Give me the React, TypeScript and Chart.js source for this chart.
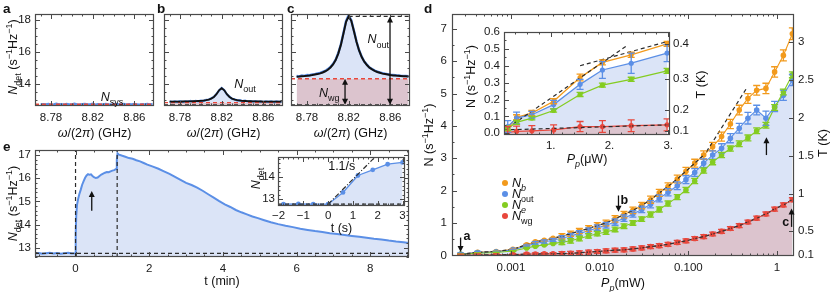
import { useEffect, useRef } from "react";
import { Chart, registerables } from "chart.js";

Chart.register(...registerables);

const W = 831;
const H = 292;
const FONT = "'Liberation Sans', Arial, Helvetica, sans-serif";

const BLUE = "#5b8fe6";
const ORANGE = "#f29a1c";
const GREEN = "#84cc21";
const RED = "#e8473c";
const BLUE_FILL = "#dbe4f7";
const PINK_FILL = "#dcc4ce";
const DASH = "#2b2b2b";
const FRAME = "#4a4a4a";
const INK = "#111111";

// ---------------- panels a, b, c : spectra ----------------
const freqGHz = [8.77, 8.7725, 8.775, 8.7775, 8.78, 8.7825, 8.785, 8.7875, 8.79, 8.7925, 8.795, 8.7975, 8.8, 8.8025, 8.805, 8.8075, 8.81, 8.8125, 8.815, 8.8175, 8.82, 8.8225, 8.825, 8.8275, 8.83, 8.8325, 8.835, 8.8375, 8.84, 8.8425, 8.845, 8.8475, 8.85, 8.8525, 8.855, 8.8575, 8.86, 8.8625, 8.865, 8.8675, 8.87, 8.8725, 8.875, 8.8775];
const specA = [12.75, 12.76, 12.74, 12.77, 12.73, 12.75, 12.78, 12.74, 12.76, 12.73, 12.77, 12.75, 12.74, 12.78, 12.75, 12.73, 12.76, 12.77, 12.74, 12.75, 12.78, 12.73, 12.76, 12.75, 12.74, 12.77, 12.75, 12.73, 12.76, 12.78, 12.74, 12.75, 12.77, 12.73, 12.76, 12.74, 12.77, 12.75, 12.73, 12.76, 12.74, 12.77, 12.75, 12.76];
const specB = [12.93, 12.88, 12.92, 12.9, 12.94, 12.89, 12.93, 12.91, 12.95, 12.9, 12.96, 12.93, 12.97, 12.95, 13.02, 13.03, 13.12, 13.2, 13.39, 13.6, 13.76, 13.62, 13.36, 13.22, 13.08, 13.06, 12.98, 13.0, 12.94, 12.97, 12.92, 12.95, 12.91, 12.94, 12.9, 12.93, 12.89, 12.93, 12.9, 12.92, 12.88, 12.92, 12.9, 12.91];
const fitB = [12.911, 12.912, 12.913, 12.915, 12.917, 12.92, 12.924, 12.927, 12.93, 12.935, 12.94, 12.95, 12.96, 12.98, 13.0, 13.04, 13.1, 13.2, 13.37, 13.61, 13.75, 13.61, 13.37, 13.2, 13.1, 13.04, 13.0, 12.98, 12.96, 12.95, 12.94, 12.935, 12.93, 12.927, 12.924, 12.92, 12.917, 12.915, 12.913, 12.912, 12.911, 12.91, 12.91, 12.91];
const specC = [14.5, 14.48, 14.53, 14.51, 14.56, 14.55, 14.6, 14.62, 14.66, 14.69, 14.76, 14.82, 14.93, 15.06, 15.26, 15.52, 15.93, 16.47, 17.18, 17.92, 18.28, 17.97, 17.33, 16.66, 16.1, 15.71, 15.4, 15.21, 15.03, 14.94, 14.84, 14.78, 14.72, 14.68, 14.64, 14.62, 14.58, 14.57, 14.55, 14.54, 14.52, 14.51, 14.5, 14.49];
const fitC = [14.46, 14.47, 14.49, 14.5, 14.515, 14.535, 14.56, 14.59, 14.62, 14.665, 14.72, 14.795, 14.89, 15.03, 15.22, 15.49, 15.895, 16.432, 17.139, 17.864, 18.2, 17.93, 17.3, 16.63, 16.09, 15.68, 15.39, 15.18, 15.02, 14.91, 14.82, 14.75, 14.7, 14.65, 14.62, 14.59, 14.56, 14.54, 14.53, 14.51, 14.5, 14.49, 14.48, 14.47];
const sysLevel = 12.71;
const wgLevelA = 12.75;
const wgLevelB = 12.85;
const wgLevelC = 14.33;
const peakLevelC = 18.2;
const peakFreqC = 8.82;
const arrowFreqOutC = 8.8597;
const arrowFreqWgC = 8.8165;
const fTicks = [8.78, 8.82, 8.86];
const fTickLabels = ["8.78", "8.82", "8.86"];
const nDetTicks = [14, 16, 18];

// ---------------- panel e : time trace ----------------
const tMin = [-1.1, -1.0, -0.9, -0.8, -0.7, -0.6, -0.5, -0.4, -0.3, -0.2, -0.1, 0, 0.005, 0.02, 0.04, 0.07, 0.1, 0.14, 0.18, 0.22, 0.26, 0.3, 0.34, 0.38, 0.42, 0.46, 0.5, 0.55, 0.6, 0.65, 0.7, 0.75, 0.8, 0.85, 0.9, 0.95, 1.0, 1.05, 1.1, 1.12, 1.14, 1.18, 1.25, 1.35, 1.45, 1.55, 1.65, 1.75, 1.85, 1.95, 2.1, 2.25, 2.4, 2.55, 2.7, 2.85, 3.0, 3.15, 3.3, 3.45, 3.6, 3.75, 3.9, 4.05, 4.2, 4.35, 4.5, 4.65, 4.8, 4.95, 5.1, 5.3, 5.5, 5.7, 5.9, 6.1, 6.3, 6.5, 6.7, 6.9, 7.1, 7.3, 7.5, 7.7, 7.9, 8.1, 8.3, 8.5, 8.7, 8.9, 9.05];
const nDetTime = [12.75, 12.77, 12.74, 12.76, 12.78, 12.75, 12.77, 12.74, 12.76, 12.78, 12.75, 12.76, 13.6, 14.4, 14.85, 15.1, 15.3, 15.5, 15.72, 15.88, 16.02, 16.12, 16.18, 16.15, 16.17, 16.1, 16.05, 16.01, 16.03, 16.1, 16.16, 16.2, 16.24, 16.27, 16.26, 16.3, 16.33, 16.35, 16.4, 16.8, 17.08, 17.02, 16.98, 16.93, 16.87, 16.84, 16.78, 16.73, 16.66, 16.59, 16.5, 16.41, 16.3, 16.19, 16.06, 15.93, 15.8, 15.71, 15.6, 15.46, 15.31, 15.16, 15.01, 14.87, 14.76, 14.63, 14.53, 14.44, 14.35, 14.28, 14.2, 14.1, 14.02, 13.95, 13.89, 13.82, 13.77, 13.72, 13.68, 13.63, 13.59, 13.55, 13.51, 13.47, 13.43, 13.39, 13.36, 13.31, 13.27, 13.24, 13.2];
const baseLevelE = 12.76;
const pumpOnMin = 0;
const pumpOffMin = 1.13;
const arrowTimeE = 0.44;
const tTicks = [0, 2, 4, 6, 8];
const nDetTicksE = [13, 14, 15, 16, 17];
const tSec = [-1.8, -1.2, -0.6, 0, 0.6, 1.2, 1.8, 2.4, 3.0];
const nDetSec = [12.78, 12.79, 12.78, 12.78, 13.3, 14.05, 14.3, 14.55, 14.63];
const slopeSecT = [0, 1.95];
const slopeSecN = [12.78, 14.93];
const tSecTicks = [-2, -1, 0, 1, 2, 3];
const tSecTickLabels = ["\u22122", "\u22121", "0", "1", "2", "3"];
const nDetSecTicks = [13, 14];

// ---------------- panel d : power sweep ----------------
const powerMW = [2.7e-4, 4.2e-4, 6.8e-4, 1.05e-3, 1.5e-3, 1.88e-3, 2.37e-3, 2.98e-3, 3.75e-3, 4.7e-3, 5.9e-3, 7.5e-3, 9.4e-3, 0.0118, 0.0149, 0.0188, 0.0237, 0.0298, 0.0375, 0.047, 0.059, 0.075, 0.094, 0.118, 0.149, 0.188, 0.237, 0.298, 0.375, 0.47, 0.59, 0.75, 0.94, 1.18, 1.49];
const nB = [0.03, 0.095, 0.12, 0.19, 0.33, 0.42, 0.465, 0.53, 0.59, 0.67, 0.75, 0.83, 0.92, 1.0, 1.13, 1.26, 1.39, 1.54, 1.72, 1.93, 2.13, 2.36, 2.6, 2.85, 3.1, 3.36, 3.67, 4.06, 4.49, 4.85, 5.1, 5.16, 5.67, 6.18, 6.85];
const nOut = [0.04, 0.09, 0.11, 0.17, 0.29, 0.375, 0.415, 0.475, 0.53, 0.6, 0.68, 0.76, 0.85, 0.93, 1.03, 1.15, 1.28, 1.42, 1.58, 1.76, 1.95, 2.15, 2.34, 2.56, 2.85, 3.1, 3.31, 3.62, 3.93, 4.24, 4.49, 4.24, 4.6, 4.95, 5.42];
const nE = [0.03, 0.065, 0.09, 0.135, 0.23, 0.285, 0.32, 0.37, 0.4, 0.45, 0.52, 0.6, 0.67, 0.72, 0.8, 0.9, 1.0, 1.12, 1.26, 1.42, 1.6, 1.8, 2.02, 2.3, 2.62, 2.88, 3.1, 3.3, 3.45, 3.63, 3.85, 4.02, 4.57, 5.05, 5.58];
const nWg = [0.005, 0.012, 0.015, 0.02, 0.04, 0.04, 0.045, 0.05, 0.055, 0.06, 0.08, 0.1, 0.12, 0.14, 0.16, 0.17, 0.2, 0.23, 0.27, 0.3, 0.34, 0.4, 0.45, 0.52, 0.58, 0.66, 0.74, 0.83, 0.92, 1.03, 1.15, 1.28, 1.43, 1.56, 1.72];
const errB = [0.015, 0.015, 0.015, 0.015, 0.02, 0.015, 0.015, 0.015, 0.08, 0.08, 0.08, 0.09, 0.09, 0.09, 0.1, 0.1, 0.1, 0.1, 0.11, 0.11, 0.11, 0.12, 0.12, 0.12, 0.13, 0.13, 0.14, 0.14, 0.15, 0.15, 0.15, 0.16, 0.16, 0.17, 0.18];
const errOut = [0.035, 0.035, 0.02, 0.025, 0.03, 0.05, 0.06, 0.05, 0.08, 0.08, 0.08, 0.09, 0.09, 0.09, 0.1, 0.1, 0.1, 0.1, 0.11, 0.11, 0.11, 0.12, 0.12, 0.12, 0.13, 0.13, 0.14, 0.14, 0.15, 0.18, 0.15, 0.22, 0.16, 0.16, 0.17];
const errE = [0.012, 0.012, 0.01, 0.01, 0.012, 0.012, 0.012, 0.015, 0.07, 0.07, 0.07, 0.07, 0.07, 0.07, 0.07, 0.07, 0.07, 0.07, 0.08, 0.08, 0.08, 0.08, 0.08, 0.08, 0.08, 0.08, 0.08, 0.08, 0.09, 0.09, 0.09, 0.09, 0.09, 0.09, 0.09];
const errWg = [0.035, 0.03, 0.03, 0.03, 0.03, 0.035, 0.035, 0.035, 0.06, 0.06, 0.06, 0.06, 0.06, 0.06, 0.06, 0.06, 0.06, 0.06, 0.06, 0.06, 0.06, 0.06, 0.06, 0.06, 0.06, 0.06, 0.06, 0.06, 0.06, 0.06, 0.06, 0.06, 0.06, 0.06, 0.06];
const fitLowCount = 25;
const slopeP = [0.16, 0.45];
const slopeN = [3.2, 5.15];
const insetCount = 8;
const insetSlopeAP = [0.26, 2.3];
const insetSlopeAN = [0.03, 0.52];
const insetSlopeBP = [1.5, 3.0];
const insetSlopeBN = [0.4, 0.545];
const insetWgFitP = [0.2, 3.0];
const insetWgFitN = [0.02, 0.05];
const pTicks = [0.001, 0.01, 0.1, 1];
const pTickLabels = ["0.001", "0.010", "0.100", "1"];
const nTicks = [0, 1, 2, 3, 4, 5, 6, 7];
const tempTicks = [0.1, 0.5, 1, 1.5, 2, 2.5, 3];
const insetPTicks = [1, 2, 3];
const insetPTickLabels = ["1.", "2.", "3."];
const insetNTicks = [0, 0.1, 0.2, 0.3, 0.4, 0.5, 0.6];
const insetTempTicks = [0.1, 0.2, 0.3, 0.4];
const hfOverK = 0.4233; // h*8.82 GHz / k_B in kelvin
const arrowA = { p: 2.7e-4, from: 0.55, to: 0.1 };
const arrowB = { p: 0.0163, from: 1.85, to: 1.35 };
const arrowC = { p: 1.46, from: 0.88, to: 1.45 };
const arrowUp = { p: 0.76, from: 3.1, to: 3.65 };

// ---------------- helpers ----------------
type Seg = { t: string; i?: boolean; b?: boolean; sub?: boolean; sup?: boolean };
type Pt = (c: any) => [number, number];
interface TextSpec { at: Pt; segs: Seg[]; size?: number; align?: string; rot?: number }
interface ArrowSpec { x: number; y1: number; y2: number; both?: boolean; xs?: string; ys?: string }
interface ErrSpec { xs: number[]; ys: number[]; err: number[]; color: string; n?: number; cap?: number }
interface TickSpec { scale: string; side: "bottom" | "top" | "left" | "right"; minor?: number | "log" }
interface DecorCfg { bg?: string; ticks: TickSpec[]; errors?: ErrSpec[]; arrows?: ArrowSpec[]; texts?: TextSpec[]; dots?: { at: Pt; color: string }[] }
interface Area { l: number; t: number; r: number; b: number }

const boseN = (T: number) => 1 / (Math.exp(hfOverK / T) - 1);
const xy = (xs: number[], ys: number[]) => xs.map((x, i) => ({ x, y: ys[i] }));

function drawRich(ctx: CanvasRenderingContext2D, segs: Seg[], x: number, y: number, size: number, align: string, rot: number) {
  ctx.save();
  ctx.translate(x, y);
  if (rot) ctx.rotate(rot);
  const parts = segs.map((s) => {
    const fs = s.sub || s.sup ? size * 0.72 : size;
    const font = `${s.i ? "italic " : ""}${s.b ? "bold " : ""}${fs}px ${FONT}`;
    ctx.font = font;
    return { t: s.t, font, w: ctx.measureText(s.t).width, dy: s.sub ? size * 0.36 : s.sup ? -size * 0.4 : 0 };
  });
  const total = parts.reduce((a, p) => a + p.w, 0);
  let cx = align === "center" ? -total / 2 : align === "right" ? -total : 0;
  ctx.fillStyle = INK;
  ctx.textAlign = "left";
  ctx.textBaseline = "alphabetic";
  const base = size * 0.36;
  for (const p of parts) {
    ctx.font = p.font;
    ctx.fillText(p.t, cx, base + p.dy);
    cx += p.w;
  }
  ctx.restore();
}

function drawArrow(ctx: CanvasRenderingContext2D, x: number, y1: number, y2: number, both?: boolean) {
  const dir = Math.sign(y2 - y1);
  const hl = 6;
  const hw = 3;
  ctx.save();
  ctx.strokeStyle = INK;
  ctx.fillStyle = INK;
  ctx.lineWidth = 1.3;
  ctx.beginPath();
  ctx.moveTo(x, y1 + (both ? dir * hl * 0.8 : 0));
  ctx.lineTo(x, y2 - dir * hl * 0.8);
  ctx.stroke();
  const head = (yt: number, d: number) => {
    ctx.beginPath();
    ctx.moveTo(x, yt);
    ctx.lineTo(x - hw, yt - d * hl);
    ctx.lineTo(x + hw, yt - d * hl);
    ctx.closePath();
    ctx.fill();
  };
  head(y2, dir);
  if (both) head(y1, -dir);
  ctx.restore();
}

function minorValues(s: any, minor: number | "log") {
  const out: number[] = [];
  if (minor === "log") {
    for (let e = Math.floor(Math.log10(s.min)); e <= Math.ceil(Math.log10(s.max)); e++) {
      for (let m = 1; m < 10; m++) {
        const v = m * Math.pow(10, e);
        if (v >= s.min && v <= s.max) out.push(v);
      }
    }
  } else {
    const start = Math.ceil(s.min / minor - 1e-9);
    for (let k = start; k * minor <= s.max + 1e-9; k++) out.push(k * minor);
  }
  return out;
}

function makeDecor(cfg: DecorCfg) {
  return {
    id: "decor",
    beforeDraw(c: any) {
      if (!cfg.bg) return;
      const a = c.chartArea;
      c.ctx.save();
      c.ctx.fillStyle = cfg.bg;
      c.ctx.fillRect(a.left, a.top, a.right - a.left, a.bottom - a.top);
      c.ctx.restore();
    },
    afterDatasetsDraw(c: any) {
      const ctx: CanvasRenderingContext2D = c.ctx;
      const a = c.chartArea;
      ctx.save();
      ctx.beginPath();
      ctx.rect(a.left, a.top, a.right - a.left, a.bottom - a.top);
      ctx.clip();
      for (const e of cfg.errors || []) {
        const sx = c.scales.x;
        const sy = c.scales.y;
        const n = e.n ?? e.xs.length;
        const cap = e.cap ?? 3.5;
        ctx.strokeStyle = e.color;
        ctx.lineWidth = 1.3;
        for (let i = 0; i < n; i++) {
          const px = sx.getPixelForValue(e.xs[i]);
          const lo = sy.getPixelForValue(e.ys[i] - e.err[i]);
          const hi = sy.getPixelForValue(e.ys[i] + e.err[i]);
          ctx.beginPath();
          ctx.moveTo(px, lo);
          ctx.lineTo(px, hi);
          ctx.moveTo(px - cap, lo);
          ctx.lineTo(px + cap, lo);
          ctx.moveTo(px - cap, hi);
          ctx.lineTo(px + cap, hi);
          ctx.stroke();
        }
      }
      ctx.restore();
    },
    afterDraw(c: any) {
      const ctx: CanvasRenderingContext2D = c.ctx;
      const a = c.chartArea;
      ctx.save();
      ctx.strokeStyle = FRAME;
      ctx.lineWidth = 1;
      for (const t of cfg.ticks) {
        const s = c.scales[t.scale];
        const majors = s.ticks.map((k: any) => k.value);
        const minors = t.minor ? minorValues(s, t.minor) : [];
        const draw = (v: number, len: number) => {
          const p = Math.round(s.getPixelForValue(v)) + 0.5;
          ctx.beginPath();
          if (t.side === "bottom") { ctx.moveTo(p, a.bottom); ctx.lineTo(p, a.bottom - len); }
          if (t.side === "top") { ctx.moveTo(p, a.top); ctx.lineTo(p, a.top + len); }
          if (t.side === "left") { ctx.moveTo(a.left, p); ctx.lineTo(a.left + len, p); }
          if (t.side === "right") { ctx.moveTo(a.right, p); ctx.lineTo(a.right - len, p); }
          ctx.stroke();
        };
        minors.forEach((v) => draw(v, 2.5));
        majors.forEach((v: number) => draw(v, 5));
      }
      ctx.lineWidth = 1.2;
      ctx.strokeRect(Math.round(a.left) + 0.5, Math.round(a.top) + 0.5, Math.round(a.right - a.left) - 1, Math.round(a.bottom - a.top) - 1);
      ctx.restore();
      for (const ar of cfg.arrows || []) {
        const sx = c.scales[ar.xs || "x"];
        const sy = c.scales[ar.ys || "y"];
        drawArrow(ctx, sx.getPixelForValue(ar.x), sy.getPixelForValue(ar.y1), sy.getPixelForValue(ar.y2), ar.both);
      }
      for (const d of cfg.dots || []) {
        const [x, y] = d.at(c);
        ctx.save();
        ctx.fillStyle = d.color;
        ctx.beginPath();
        ctx.arc(x, y, 3, 0, Math.PI * 2);
        ctx.fill();
        ctx.restore();
      }
      for (const t of cfg.texts || []) {
        const [x, y] = t.at(c);
        drawRich(ctx, t.segs, x, y, t.size ?? 12.5, t.align ?? "center", t.rot ?? 0);
      }
    },
  };
}

function axis(type: string, position: string, min: number, max: number, ticks: number[], labels: string[] | null, show = true, pad = 4) {
  return {
    type, position, min, max,
    grid: { display: false, drawTicks: false },
    border: { display: false },
    afterBuildTicks: (s: any) => { s.ticks = ticks.map((v) => ({ value: v })); },
    ticks: {
      display: show, autoSkip: false, maxRotation: 0, minRotation: 0, padding: pad,
      font: { family: FONT, size: 11.5 }, color: "#1a1a1a",
      callback: (_v: any, i: number) => (labels ? labels[i] : String(ticks[i])),
    },
  };
}

function line(data: any[], color: string, width: number, dash?: number[]) {
  return { data, borderColor: color, borderWidth: width, borderDash: dash || [], pointRadius: 0, fill: false, tension: 0 };
}
function marks(data: any[], color: string, r: number, width = 1.1) {
  return { data, borderColor: color, borderWidth: width, pointRadius: r, pointBackgroundColor: color, pointBorderColor: color, pointBorderWidth: 0, fill: false, tension: 0 };
}
function fillArea(data: any[], color: string, fill: any) {
  return { data, borderColor: "rgba(0,0,0,0)", borderWidth: 0, backgroundColor: color, pointRadius: 0, fill, tension: 0 };
}

// The axis boxes take all the room between the page edge and the plot frame,
// so tick labels are never clipped and the frame lands at the given area.
function chartCfg(area: Area, scales: any, datasets: any[], decor: DecorCfg) {
  const pos = Object.values(scales).map((s: any) => s.position);
  const sizes: Record<string, number> = { left: area.l, right: W - area.r, bottom: H - area.b, top: area.t };
  for (const s of Object.values(scales) as any[]) {
    const size = sizes[s.position];
    const vertical = s.position === "left" || s.position === "right";
    s.afterFit = (sc: any) => {
      if (vertical) sc.width = size; else sc.height = size;
      sc.paddingTop = 0; sc.paddingBottom = 0; sc.paddingLeft = 0; sc.paddingRight = 0;
    };
  }
  return {
    type: "line",
    data: { datasets },
    options: {
      responsive: false, animation: false, devicePixelRatio: 1, events: [],
      layout: {
        padding: {
          left: pos.includes("left") ? 0 : area.l,
          top: pos.includes("top") ? 0 : area.t,
          right: pos.includes("right") ? 0 : W - area.r,
          bottom: pos.includes("bottom") ? 0 : H - area.b,
        },
      },
      plugins: { legend: { display: false }, tooltip: { enabled: false }, title: { display: false }, filler: { drawTime: "beforeDatasetsDraw", propagate: false } },
      scales,
    },
    plugins: [makeDecor(decor)],
  } as any;
}

const midX = (c: any) => (c.chartArea.left + c.chartArea.right) / 2;
const midY = (c: any) => (c.chartArea.top + c.chartArea.bottom) / 2;
const at = (xv: number, yv: number, xs = "x", ys = "y"): Pt => (c) => [c.scales[xs].getPixelForValue(xv), c.scales[ys].getPixelForValue(yv)];
const ROT = -Math.PI / 2;

const NDET_TITLE: Seg[] = [{ t: "N", i: true }, { t: "det", sub: true }, { t: " (s" }, { t: "\u22121", sup: true }, { t: "Hz" }, { t: "\u22121", sup: true }, { t: ")" }];
const OMEGA_TITLE: Seg[] = [{ t: "\u03C9", i: true }, { t: "/(2" }, { t: "\u03C0", i: true }, { t: ") (GHz)" }];
const N_TITLE: Seg[] = [{ t: "N (s" }, { t: "\u22121", sup: true }, { t: "Hz" }, { t: "\u22121", sup: true }, { t: ")" }];
const T_TITLE: Seg[] = [{ t: "T (K)" }];
const letter = (s: string): Seg[] => [{ t: s, b: true }];

// axis ranges (layout)
const fAxis = [8.7646, 8.8789];
const nDetAxis = [12.64, 18.35];
const tAxis = [-1.1, 9.05];
const eYAxis = [12.6, 17.22];
const tSecAxis = [-2.02, 3.1];
const eInYAxis = [12.7, 14.87];
const pAxis = [2.16e-4, 1.555];
const nAxis = [-0.02, 7.46];
const pInAxis = [0.206, 3.03];
const nInAxis = [-0.01, 0.6];

function spectrumScales(showY: boolean) {
  return {
    x: axis("linear", "bottom", fAxis[0], fAxis[1], fTicks, fTickLabels, true, 5),
    y: axis("linear", "left", nDetAxis[0], nDetAxis[1], nDetTicks, null, showY, 4),
  };
}
const specTicks: TickSpec[] = [
  { scale: "x", side: "bottom", minor: 0.01 }, { scale: "x", side: "top", minor: 0.01 },
  { scale: "y", side: "left", minor: 0.5 }, { scale: "y", side: "right", minor: 0.5 },
];
const xTitle = (segs: Seg[], dy: number): TextSpec => ({ at: (c) => [midX(c), c.chartArea.bottom + dy], segs });

function cfgA() {
  const span = [fAxis[0], fAxis[1]];
  return chartCfg({ l: 35, t: 14, r: 154, b: 106 }, spectrumScales(true), [
    line(xy(span, [wgLevelA, wgLevelA]), RED, 1.3, [4, 3]),
    line(xy(span, [sysLevel, sysLevel]), DASH, 1.3, [4, 3]),
    line(xy(freqGHz, specA), BLUE, 2.2),
  ], {
    ticks: specTicks,
    texts: [
      { at: (c) => [c.chartArea.left - 32, c.chartArea.top - 6], segs: letter("a"), size: 13.5, align: "left" },
      { at: (c) => [c.chartArea.left - 23, midY(c) - 3], segs: NDET_TITLE, rot: ROT },
      xTitle(OMEGA_TITLE, 26),
      { at: at(8.8386, 13.26), segs: [{ t: "N", i: true }, { t: "sys", sub: true }] },
    ],
  });
}

function cfgB() {
  const span = [fAxis[0], fAxis[1]];
  const dataSpan = [freqGHz[0], freqGHz[freqGHz.length - 1]];
  return chartCfg({ l: 164, t: 14, r: 283, b: 106 }, spectrumScales(false), [
    line(xy(freqGHz, fitB), "#111", 1.8),
    line(xy(span, [wgLevelB, wgLevelB]), RED, 1.3, [4, 3]),
    line(xy(span, [sysLevel, sysLevel]), DASH, 1.3, [4, 3]),
    line(xy(freqGHz, specB), BLUE, 2.2),
    fillArea(xy(freqGHz, specB), BLUE_FILL, { value: wgLevelB }),
    fillArea(xy(dataSpan, [wgLevelB, wgLevelB]), PINK_FILL, { value: sysLevel }),
  ], {
    ticks: specTicks,
    texts: [
      { at: (c) => [c.chartArea.left - 7, c.chartArea.top - 6], segs: letter("b"), size: 13.5, align: "left" },
      xTitle(OMEGA_TITLE, 26),
      { at: at(8.8424, 14.06), segs: [{ t: "N", i: true }, { t: "out", sub: true }] },
    ],
  });
}

function cfgC() {
  const span = [fAxis[0], fAxis[1]];
  const dataSpan = [freqGHz[0], freqGHz[freqGHz.length - 1]];
  return chartCfg({ l: 291, t: 14, r: 410, b: 106 }, spectrumScales(false), [
    line(xy(freqGHz, fitC), "#111", 2),
    line(xy([peakFreqC, fAxis[1]], [peakLevelC, peakLevelC]), DASH, 1.3, [4, 3]),
    line(xy(span, [wgLevelC, wgLevelC]), RED, 1.3, [4, 3]),
    line(xy(span, [sysLevel, sysLevel]), DASH, 1.3, [4, 3]),
    line(xy(freqGHz, specC), BLUE, 2.4),
    fillArea(xy(freqGHz, specC), BLUE_FILL, { value: wgLevelC }),
    fillArea(xy(dataSpan, [wgLevelC, wgLevelC]), PINK_FILL, { value: sysLevel }),
  ], {
    ticks: specTicks,
    arrows: [
      { x: arrowFreqOutC, y1: sysLevel, y2: peakLevelC, both: true },
      { x: arrowFreqWgC, y1: sysLevel, y2: wgLevelC, both: true },
    ],
    texts: [
      { at: (c) => [c.chartArea.left - 4, c.chartArea.top - 6], segs: letter("c"), size: 13.5, align: "left" },
      xTitle(OMEGA_TITLE, 26),
      { at: at(8.8485, 16.8), segs: [{ t: "N", i: true }, { t: "out", sub: true }] },
      { at: at(8.8014, 13.5), segs: [{ t: "N", i: true }, { t: "wg", sub: true }] },
    ],
  });
}

function cfgE() {
  return chartCfg({ l: 35, t: 150, r: 409, b: 257 }, {
    x: axis("linear", "bottom", tAxis[0], tAxis[1], tTicks, null, true, 5),
    y: axis("linear", "left", eYAxis[0], eYAxis[1], nDetTicksE, null, true, 4),
  }, [
    line(xy([pumpOnMin, pumpOnMin], eYAxis), DASH, 1.2, [4, 3]),
    line(xy([pumpOffMin, pumpOffMin], eYAxis), DASH, 1.2, [4, 3]),
    line(xy(tAxis, [baseLevelE, baseLevelE]), DASH, 1.3, [4, 3]),
    { ...line(xy(tMin, nDetTime), BLUE, 2), fill: "start", backgroundColor: BLUE_FILL },
  ], {
    ticks: [
      { scale: "x", side: "bottom", minor: 0.5 }, { scale: "x", side: "top", minor: 0.5 },
      { scale: "y", side: "left", minor: 0.2 }, { scale: "y", side: "right", minor: 0.2 },
    ],
    arrows: [{ x: arrowTimeE, y1: 14.6, y2: 15.45 }],
    texts: [
      { at: (c) => [c.chartArea.left - 32, c.chartArea.top - 4], segs: letter("e"), size: 13.5, align: "left" },
      { at: (c) => [c.chartArea.left - 23, midY(c)], segs: NDET_TITLE, rot: ROT },
      xTitle([{ t: "t (min)" }], 23),
    ],
  });
}

function cfgEInset() {
  return chartCfg({ l: 278, t: 157, r: 405, b: 206 }, {
    x: axis("linear", "bottom", tSecAxis[0], tSecAxis[1], tSecTicks, tSecTickLabels, true, 3),
    y: axis("linear", "left", eInYAxis[0], eInYAxis[1], nDetSecTicks, null, true, 3),
  }, [
    line(xy(tSecAxis, [nDetSec[0], nDetSec[0]]), DASH, 1.3, [4, 3]),
    line(xy(slopeSecT, slopeSecN), DASH, 1.2, [5, 2, 1, 2]),
    { ...marks(xy(tSec, nDetSec), BLUE, 2.4, 1.3), fill: "start", backgroundColor: BLUE_FILL },
  ], {
    bg: "#ffffff",
    ticks: [
      { scale: "x", side: "bottom", minor: 0.2 }, { scale: "x", side: "top", minor: 0.2 },
      { scale: "y", side: "left", minor: 0.2 }, { scale: "y", side: "right", minor: 0.2 },
    ],
    texts: [
      { at: (c) => [c.chartArea.left - 23, midY(c) - 3], segs: [{ t: "N", i: true }, { t: "det", sub: true }], rot: ROT },
      xTitle([{ t: "t (s)" }], 21),
      { at: at(0.55, 14.5), segs: [{ t: "1.1/s" }] },
    ],
  });
}

function cfgD() {
  const lowP = powerMW.slice(0, fitLowCount);
  const lowN = nB.slice(0, fitLowCount);
  const legend = [
    { segs: [{ t: "N", i: true }, { t: "b", i: true, sub: true }], color: ORANGE },
    { segs: [{ t: "N", i: true }, { t: "out", sub: true }], color: BLUE },
    { segs: [{ t: "N", i: true }, { t: "e", i: true, sub: true }], color: GREEN },
    { segs: [{ t: "N", i: true }, { t: "wg", sub: true }], color: RED },
  ];
  return chartCfg({ l: 452, t: 14, r: 794, b: 256 }, {
    x: axis("logarithmic", "bottom", pAxis[0], pAxis[1], pTicks, pTickLabels, true, 5),
    y: axis("linear", "left", nAxis[0], nAxis[1], nTicks, null, true, 5),
    y2: axis("linear", "right", nAxis[0], nAxis[1], tempTicks.map(boseN), tempTicks.map(String), true, 4),
  }, [
    line(xy(slopeP, slopeN), DASH, 1.2, [4, 3]),
    line(xy(lowP, lowN), "#333", 1.3, [4, 2]),
    line(xy(powerMW, nWg), "#333", 1.3, [4, 2]),
    marks(xy(powerMW, nWg), RED, 2.8),
    marks(xy(powerMW, nE), GREEN, 2.8),
    marks(xy(powerMW, nOut), BLUE, 2.8),
    marks(xy(powerMW, nB), ORANGE, 2.8),
    fillArea(xy(powerMW, nWg), PINK_FILL, "start"),
    fillArea(xy(powerMW, nOut), BLUE_FILL, "start"),
  ], {
    ticks: [
      { scale: "x", side: "bottom", minor: "log" }, { scale: "x", side: "top", minor: "log" },
      { scale: "y", side: "left", minor: 0.5 }, { scale: "y2", side: "right" },
    ],
    errors: [
      { xs: powerMW, ys: nB, err: errB, color: ORANGE },
      { xs: powerMW, ys: nOut, err: errOut, color: BLUE },
      { xs: powerMW, ys: nE, err: errE, color: GREEN },
      { xs: powerMW, ys: nWg, err: errWg, color: RED },
    ],
    arrows: [
      { x: arrowA.p, y1: arrowA.from, y2: arrowA.to },
      { x: arrowB.p, y1: arrowB.from, y2: arrowB.to },
      { x: arrowC.p, y1: arrowC.from, y2: arrowC.to },
      { x: arrowUp.p, y1: arrowUp.from, y2: arrowUp.to },
    ],
    dots: legend.map((l, k) => ({ at: (c: any) => [c.chartArea.left + 53, c.chartArea.top + 169 + k * 11] as [number, number], color: l.color })),
    texts: [
      { at: (c) => [c.chartArea.left - 28, c.chartArea.top - 6], segs: letter("d"), size: 13.5, align: "left" },
      { at: (c) => [c.chartArea.left - 24, midY(c)], segs: N_TITLE, rot: ROT },
      { at: (c) => [c.chartArea.right + 28, midY(c) + 8], segs: T_TITLE, rot: ROT },
      xTitle([{ t: "P", i: true }, { t: "p", i: true, sub: true }, { t: "(mW)" }], 26),
      ...legend.map((l, k) => ({ at: (c: any) => [c.chartArea.left + 60, c.chartArea.top + 168 + k * 11] as [number, number], segs: l.segs as Seg[], align: "left", size: 12.5 })),
      { at: at(arrowA.p * 1.18, arrowA.from + 0.05), segs: letter("a"), size: 12.5 },
      { at: at(arrowB.p * 1.16, arrowB.from - 0.12), segs: letter("b"), size: 12.5 },
      { at: at(arrowC.p * 0.86, 1.05), segs: letter("c"), size: 12.5 },
    ],
  });
}

function cfgDInset() {
  const pUW = powerMW.slice(0, insetCount).map((p) => p * 1000);
  const cut = (a: number[]) => a.slice(0, insetCount);
  return chartCfg({ l: 504, t: 32, r: 670, b: 135 }, {
    x: axis("linear", "bottom", pInAxis[0], pInAxis[1], insetPTicks, insetPTickLabels, true, 4),
    y: axis("linear", "left", nInAxis[0], nInAxis[1], insetNTicks, insetNTicks.map((v) => v.toFixed(1)), true, 4),
    y2: axis("linear", "right", nInAxis[0], nInAxis[1], insetTempTicks.map(boseN), insetTempTicks.map(String), true, 3),
  }, [
    line(xy(insetSlopeAP, insetSlopeAN), DASH, 1.2, [4, 3]),
    line(xy(insetSlopeBP, insetSlopeBN), DASH, 1.2, [4, 3]),
    line(xy(insetWgFitP, insetWgFitN), DASH, 1.2, [4, 3]),
    marks(xy(pUW, cut(nWg)), RED, 2.6, 1.3),
    marks(xy(pUW, cut(nE)), GREEN, 2.6, 1.3),
    marks(xy(pUW, cut(nOut)), BLUE, 2.6, 1.3),
    marks(xy(pUW, cut(nB)), ORANGE, 2.6, 1.3),
    fillArea(xy(pUW, cut(nWg)), PINK_FILL, "start"),
    fillArea(xy(pUW, cut(nOut)), BLUE_FILL, "start"),
  ], {
    bg: "#ffffff",
    ticks: [
      { scale: "x", side: "bottom", minor: 0.2 }, { scale: "x", side: "top", minor: 0.2 },
      { scale: "y", side: "left", minor: 0.05 }, { scale: "y2", side: "right" },
    ],
    errors: [
      { xs: pUW, ys: nB, err: errB, color: ORANGE, n: insetCount },
      { xs: pUW, ys: nOut, err: errOut, color: BLUE, n: insetCount },
      { xs: pUW, ys: nE, err: errE, color: GREEN, n: insetCount },
      { xs: pUW, ys: nWg, err: errWg, color: RED, n: insetCount },
    ],
    texts: [
      { at: (c) => [c.chartArea.left - 34, midY(c) - 7], segs: N_TITLE, rot: ROT },
      { at: (c) => [c.chartArea.right + 30, midY(c) + 1], segs: T_TITLE, rot: ROT },
      xTitle([{ t: "P", i: true }, { t: "p", i: true, sub: true }, { t: "(\u03BCW)" }], 23),
    ],
  });
}

export default function App() {
  const canvases = useRef<(HTMLCanvasElement | null)[]>([]);
  useEffect(() => {
    document.body.style.margin = "0";
    const cfgs = [cfgA(), cfgB(), cfgC(), cfgE(), cfgEInset(), cfgD(), cfgDInset()];
    const charts = cfgs.map((cfg, i) => new Chart(canvases.current[i] as HTMLCanvasElement, cfg));
    return () => charts.forEach((c) => c.destroy());
  }, []);
  return (
    <div style={{ position: "relative", width: W, height: H, background: "#fff", overflow: "hidden" }}>
      {[0, 1, 2, 3, 4, 5, 6].map((i) => (
        <canvas
          key={i}
          ref={(el) => { canvases.current[i] = el; }}
          width={W}
          height={H}
          style={{ position: "absolute", left: 0, top: 0, width: W, height: H }}
        />
      ))}
    </div>
  );
}
